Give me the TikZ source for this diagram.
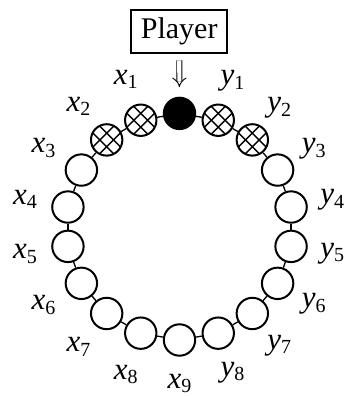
\documentclass[tikz,border=0pt]{standalone}
\usepackage{fontspec}
\setmainfont{Liberation Serif}
\usetikzlibrary{arrows.meta}
\newcommand\lbl[2]{{\itshape #1}\raisebox{-4.5pt}{\fontsize{20pt}{20pt}\selectfont #2}}
\begin{document}
\begin{tikzpicture}[
  ball/.style={circle, draw, line width=2pt, minimum size=31.4pt, inner sep=0pt},
  hatched/.style={ball, path picture={
      \coordinate (hc) at (path picture bounding box.center);
      \foreach \d in {-3.4,3.4}{
        \draw[line width=1.4pt] ([shift={(-14pt+\d pt,-14pt-\d pt)}]hc) -- ([shift={(14pt+\d pt,14pt-\d pt)}]hc);
        \draw[line width=1.4pt] ([shift={(-14pt+\d pt,14pt+\d pt)}]hc) -- ([shift={(14pt+\d pt,-14pt+\d pt)}]hc);
      }}},
  filled/.style={ball, fill=black},
  link/.style={line width=1.3pt},
  lab/.style={font=\fontsize{31pt}{31pt}\selectfont, inner sep=0pt},
  box/.style={draw, line width=2pt, minimum width=96pt, minimum height=43pt, inner sep=0pt, font=\fontsize{30pt}{30pt}\selectfont},
  dblarrow/.style={line width=0.9pt, double distance=4.2pt, -{Implies[scale=1.6]}, shorten <=6pt, shorten >=9.5pt}
]
\useasboundingbox (-179.5pt,-169.3pt) rectangle (167.5pt,226.7pt);
\node[filled] (p) at (90:113.3pt) {};
\foreach \k in {1,...,9} {
  \pgfmathsetmacro\a{90+20*\k}
  \ifnum\k<3
    \node[hatched] (x\k) at (\a:113.3pt) {};
  \else
    \node[ball] (x\k) at (\a:113.3pt) {};
  \fi
  \node[lab] (lx\k) at (\a:157pt) {\lbl{x}{\k}};
}
\foreach \k in {1,...,8} {
  \pgfmathsetmacro\a{90-20*\k}
  \ifnum\k<3
    \node[hatched] (y\k) at (\a:113.3pt) {};
  \else
    \node[ball] (y\k) at (\a:113.3pt) {};
  \fi
  \node[lab] (ly\k) at (\a:155pt) {\lbl{y}{\k}};
}
\draw[link] (p) -- (x1);
\draw[link] (p) -- (y1);
\foreach \k [evaluate=\k as \n using int(\k+1)] in {1,...,8} { \draw[link] (x\k) -- (x\n); }
\foreach \k [evaluate=\k as \n using int(\k+1)] in {1,...,7} { \draw[link] (y\k) -- (y\n); }
\draw[link] (y8) -- (x9);
\node[box] (player) at (-0.3pt,194.9pt) {Player};
\draw[dblarrow] (player) -- (p);
\end{tikzpicture}
\end{document}
